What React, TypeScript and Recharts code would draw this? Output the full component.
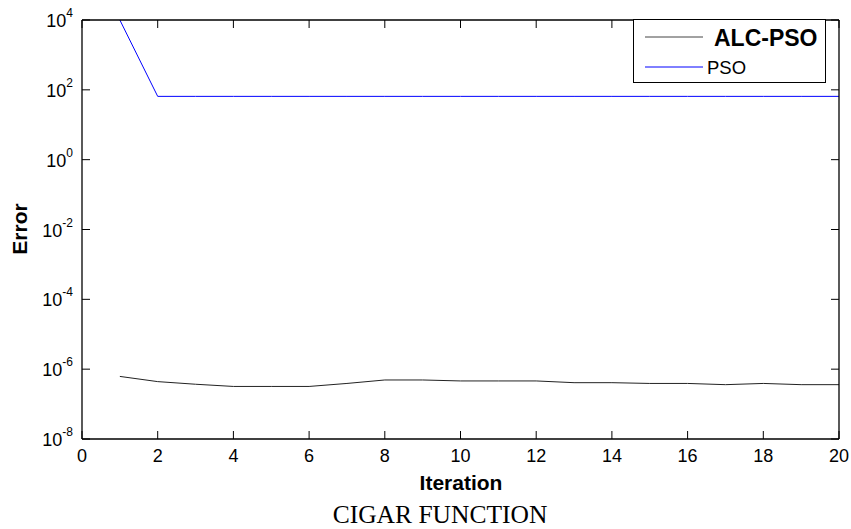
import { Legend, Line, LineChart, XAxis, YAxis } from "recharts";

const iterations = [1, 2, 3, 4, 5, 6, 7, 8, 9, 10, 11, 12, 13, 14, 15, 16, 17, 18, 19, 20];
const alcPso = [
  6.2e-7, 4.4e-7, 3.7e-7, 3.2e-7, 3.2e-7, 3.2e-7, 3.9e-7, 4.9e-7, 4.9e-7, 4.6e-7,
  4.6e-7, 4.6e-7, 4.1e-7, 4.1e-7, 3.9e-7, 3.9e-7, 3.6e-7, 3.9e-7, 3.6e-7, 3.6e-7,
];
const pso = [1e4, 65, 65, 65, 65, 65, 65, 65, 65, 65, 65, 65, 65, 65, 65, 65, 65, 65, 65, 65];

const xTicks = [0, 2, 4, 6, 8, 10, 12, 14, 16, 18, 20];
const yExponents = [-8, -6, -4, -2, 0, 2, 4];
const yTicks = yExponents.map((e) => Math.pow(10, e));

const rows = iterations.map((it, i) => ({ iter: it, alc: alcPso[i], pso: pso[i] }));

const W = 851;
const H = 529;
const LEFT = 82;
const RIGHT = 839;
const TOP = 20;
const BOTTOM = 439;
const TICK = 8;
const sans = "'Liberation Sans', Arial, sans-serif";

const LeftTick = (props: any) => {
  const { y, payload } = props;
  const exp = Math.round(Math.log10(payload.value));
  return (
    <g>
      <line x1={LEFT} x2={LEFT + TICK} y1={y} y2={y} stroke="#000" />
      <text x={73} y={y + 7} textAnchor="end" fontFamily={sans} fontSize={18} fill="#000">
        10
        <tspan dy={-10} fontSize={12}>
          {exp}
        </tspan>
      </text>
    </g>
  );
};

const RightTick = (props: any) => (
  <line x1={RIGHT - TICK} x2={RIGHT} y1={props.y} y2={props.y} stroke="#000" />
);

const BottomTick = (props: any) => {
  const { x, payload } = props;
  return (
    <g>
      <line x1={x} x2={x} y1={BOTTOM} y2={BOTTOM - TICK} stroke="#000" />
      <text x={x} y={BOTTOM + 23} textAnchor="middle" fontFamily={sans} fontSize={18} fill="#000">
        {payload.value}
      </text>
    </g>
  );
};

const TopTick = (props: any) => (
  <line x1={props.x} x2={props.x} y1={TOP} y2={TOP + TICK} stroke="#000" />
);

const BottomLabels = () => (
  <g>
    <text x={461} y={490} textAnchor="middle" fontFamily={sans} fontWeight="bold" fontSize={21} fill="#000">
      Iteration
    </text>
    <text x={440} y={523} textAnchor="middle" fontFamily="'Liberation Serif', 'Times New Roman', serif" fontSize={25.5} fill="#000">
      CIGAR FUNCTION
    </text>
  </g>
);

const ErrorLabel = () => (
  <text
    x={27}
    y={229}
    transform="rotate(-90 27 229)"
    textAnchor="middle"
    fontFamily={sans}
    fontWeight="bold"
    fontSize={21}
    fill="#000"
  >
    Error
  </text>
);

const LegendBox = () => (
  <div
    style={{
      width: 193,
      height: 64,
      boxSizing: "border-box",
      border: "1px solid #000",
      background: "#fff",
      position: "relative",
      fontFamily: sans,
    }}
  >
    <svg width={193} height={64} style={{ position: "absolute", left: -1, top: -1 }}>
      <line x1={12} x2={70} y1={18} y2={18} stroke="#444" />
      <line x1={12} x2={70} y1={48} y2={48} stroke="#0000ff" />
      <text x={81} y={27} fontFamily={sans} fontWeight="bold" fontSize={23} fill="#000">
        ALC-PSO
      </text>
      <text x={74} y={55} fontFamily={sans} fontSize={18.5} fill="#000">
        PSO
      </text>
    </svg>
  </div>
);

export default function App() {
  return (
    <div style={{ position: "absolute", left: 0, top: 0, width: W, height: H, background: "#fff" }}>
      <LineChart width={W} height={H} data={rows} margin={{ top: 0, right: 0, bottom: 0, left: 0 }}>
        <XAxis
          dataKey="iter"
          type="number"
          domain={[0, 20]}
          ticks={xTicks}
          height={H - BOTTOM}
          axisLine={{ stroke: "#000", strokeWidth: 1.3 }}
          tickLine={false}
          tick={<BottomTick />}
          label={{ content: () => <BottomLabels /> }}
        />
        <XAxis
          xAxisId="top"
          dataKey="iter"
          type="number"
          orientation="top"
          domain={[0, 20]}
          ticks={xTicks}
          height={TOP}
          axisLine={{ stroke: "#000", strokeWidth: 1.3 }}
          tickLine={false}
          tick={<TopTick />}
        />
        <YAxis
          scale="log"
          type="number"
          domain={[1e-8, 1e4]}
          ticks={yTicks}
          allowDataOverflow
          width={LEFT}
          axisLine={{ stroke: "#000", strokeWidth: 1.3 }}
          tickLine={false}
          tick={<LeftTick />}
          label={{ content: () => <ErrorLabel /> }}
        />
        <YAxis
          yAxisId="right"
          orientation="right"
          scale="log"
          type="number"
          domain={[1e-8, 1e4]}
          ticks={yTicks}
          allowDataOverflow
          width={W - RIGHT}
          axisLine={{ stroke: "#000", strokeWidth: 1.3 }}
          tickLine={false}
          tick={<RightTick />}
        />
        <Legend
          layout="horizontal"
          verticalAlign="middle"
          align="center"
          content={() => <LegendBox />}
          wrapperStyle={{ position: "absolute", left: 633, top: 19, width: 193, height: 64 }}
        />
        <Line
          dataKey="pso"
          stroke="#0000ff"
          strokeWidth={1}
          dot={false}
          type="linear"
          isAnimationActive={false}
        />
        <Line
          dataKey="alc"
          stroke="#222"
          strokeWidth={1}
          dot={false}
          type="linear"
          isAnimationActive={false}
        />
      </LineChart>
    </div>
  );
}
